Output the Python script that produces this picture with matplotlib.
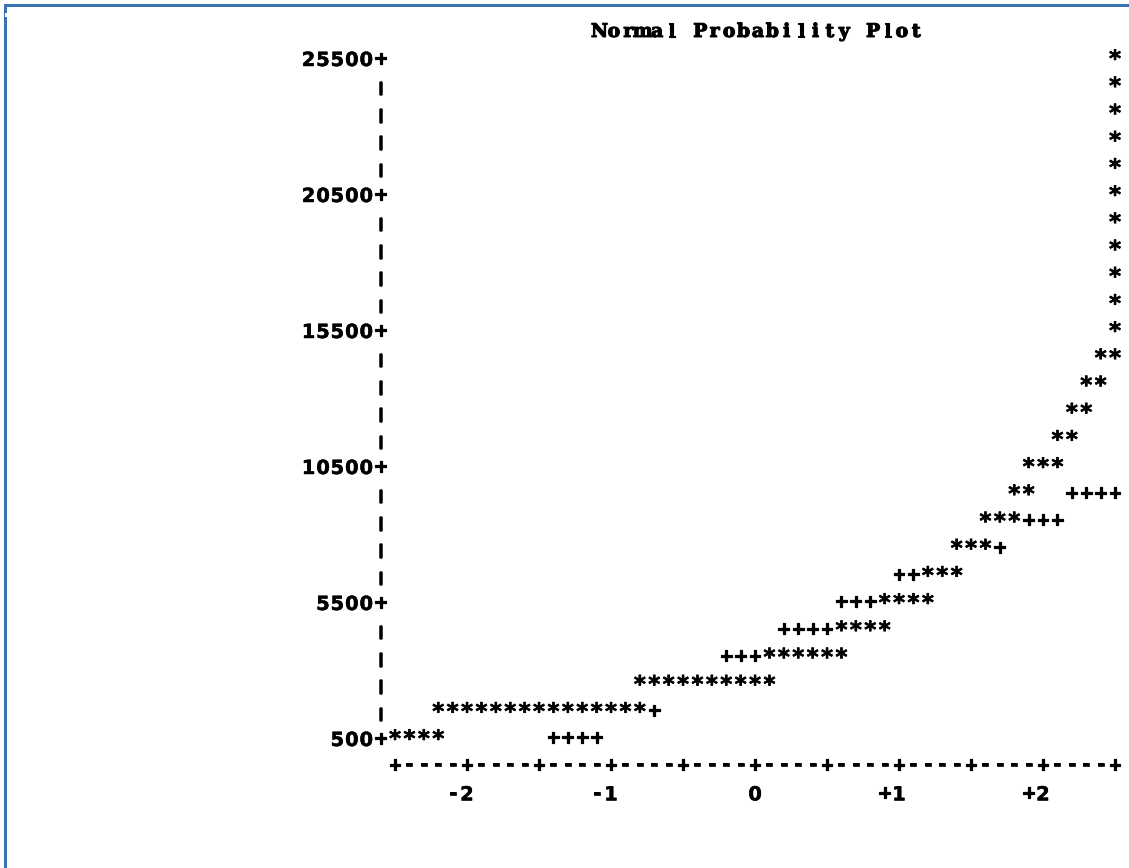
import matplotlib
matplotlib.use("Agg")
import matplotlib.pyplot as plt
import matplotlib.patheffects as pe
from matplotlib.patches import Rectangle

# ---------------------------------------------------------------
# Line-printer style normal probability plot
# ---------------------------------------------------------------
title = "Normal Probability Plot"

# vertical axis (one print row per 1000 units)
row_step = 1000
y_top_row = 25500
y_bottom_row = 500
y_tick_values = [25500, 20500, 15500, 10500, 5500, 500]

# horizontal axis: normal quantiles, one print column per 0.1
col_step = 0.1
x_tick_values = [-2.5, -2.0, -1.5, -1.0, -0.5, 0.0, 0.5, 1.0, 1.5, 2.0, 2.5]
x_label_values = [-2, -1, 0, 1, 2]
x_label_text = ["-2", "-1", "0", "+1", "+2"]

# observed values: each print row holds one run of '*'
star_row_values = [25500, 24500, 23500, 22500, 21500, 20500, 19500, 18500,
                   17500, 16500, 15500, 14500, 13500, 12500, 11500, 10500,
                   9500, 8500, 7500, 6500, 5500, 4500, 3500, 2500, 1500, 500]
star_run_start = [2.5, 2.5, 2.5, 2.5, 2.5, 2.5, 2.5, 2.5, 2.5, 2.5, 2.5,
                  2.4, 2.3, 2.2, 2.1, 1.9, 1.8, 1.6, 1.4, 1.2, 0.9, 0.6,
                  0.1, -0.8, -2.2, -2.5]
star_run_length = [1, 1, 1, 1, 1, 1, 1, 1, 1, 1, 1,
                   2, 2, 2, 2, 3, 2, 3, 3, 3, 4, 4, 6, 10, 15, 4]

# reference normal line: runs of '+' (hidden where a '*' is printed)
ref_row_values = [500, 1500, 2500, 3500, 4500, 5500, 6500, 7500, 8500, 9500]
ref_run_start = [-1.4, -1.0, -0.6, -0.2, 0.2, 0.6, 1.0, 1.4, 1.8, 2.2]
ref_run_length = [4, 4, 4, 4, 4, 4, 4, 4, 4, 4]

# ---------------------------------------------------------------
W, H = 1129, 868
fig = plt.figure(figsize=(W / 100, H / 100), dpi=100)
fig.patch.set_facecolor("white")
ax = fig.add_axes([0, 0, 1, 1])

# character grid geometry (pixels)
px_per_col = 14.4
px_first_col = 395.0          # column of quantile -2.5
px_per_row = 27.2
px_top_row = 58.3             # centre of the 25500 row

z0 = x_tick_values[0]
x_left = z0 - px_first_col / px_per_col * col_step
x_right = z0 + (W - px_first_col) / px_per_col * col_step
y_hi = y_top_row + px_top_row / px_per_row * row_step
y_lo = y_top_row - (H - px_top_row) / px_per_row * row_step
ax.set_xlim(x_left, x_right)
ax.set_ylim(y_lo, y_hi)
ax.axis("off")

SANS = "DejaVu Sans"
# glyph size, baseline drop (pixels below the row centre), stroke per char
glyph_style = {
    "*": (16.5, 8.0, 0.5),
    "+": (12.5, 4.6, 0.9),
    "-": (14.0, 4.3, 0.5),
    "|": (9.0, 6.0, 1.8),
}
default_style = (14, 7.7, 0.35)


def put(ch, z, v, size=None, drop=None, stroke=None, family=SANS):
    s, d, w = glyph_style.get(ch, default_style)
    size = s if size is None else size
    drop = d if drop is None else drop
    stroke = w if stroke is None else stroke
    ax.text(z, v - drop / px_per_row * row_step, ch, ha="center",
            va="baseline", fontsize=size, fontweight="bold", family=family,
            color="black",
            path_effects=[pe.withStroke(linewidth=stroke, foreground="black")])


def col_of(z):
    return int(round((z - z0) / col_step))


def z_of(col):
    return z0 + col * col_step


# title, centred over the plot
n = len(title)
for i, ch in enumerate(title):
    if ch != " ":
        put(ch, 0.02 + (i - (n - 1) / 2) * col_step, y_top_row + row_step,
            size=13.5, drop=5.8, stroke=0.8, family="DejaVu Serif")

# vertical axis: labels with '+' ticks and '|' between them
axis_z = z_of(-1)
v = y_top_row
while v >= y_bottom_row:
    if v in y_tick_values:
        label = str(v)
        put("+", axis_z, v, drop=5.6)
        for k, ch in enumerate(reversed(label)):
            put(ch, z_of(-2 - k), v)
    else:
        put("|", axis_z, v)
    v -= row_step

# horizontal axis line and quantile labels
axis_row = y_bottom_row - row_step
tick_cols = {col_of(t) for t in x_tick_values}
for c in range(col_of(x_tick_values[0]), col_of(x_tick_values[-1]) + 1):
    put("+" if c in tick_cols else "-", z_of(c), axis_row)
label_row = axis_row - row_step
for val, txt in zip(x_label_values, x_label_text):
    c_end = col_of(val)
    for k, ch in enumerate(reversed(txt)):
        if ch == "+":
            put(ch, z_of(c_end - k), label_row, drop=5.6)
        elif ch == "-":
            put(ch, z_of(c_end - k), label_row, drop=6.2)
        else:
            put(ch, z_of(c_end - k), label_row)

# observed points
occupied = set()
for v, s, m in zip(star_row_values, star_run_start, star_run_length):
    c0 = col_of(s)
    for c in range(c0, c0 + m):
        occupied.add((v, c))
        put("*", z_of(c), v)

# reference line
for v, s, m in zip(ref_row_values, ref_run_start, ref_run_length):
    c0 = col_of(s)
    for c in range(c0, c0 + m):
        if (v, c) not in occupied:
            put("+", z_of(c), v)

# blue frame along the top and left edges
blue = "#3b73b0"
fig.add_artist(Rectangle((4 / W, 0), 3.4 / W, (H - 4) / H,
                         transform=fig.transFigure, color=blue, lw=0))
fig.add_artist(Rectangle((4 / W, (H - 7.4) / H), (W - 4) / W, 3.4 / H,
                         transform=fig.transFigure, color=blue, lw=0))
fig.add_artist(Rectangle((5 / W, (H - 17.3) / H), 2.3 / W, 4.6 / H,
                         transform=fig.transFigure, color="white", lw=0))

fig.savefig("out.png", dpi=100)
